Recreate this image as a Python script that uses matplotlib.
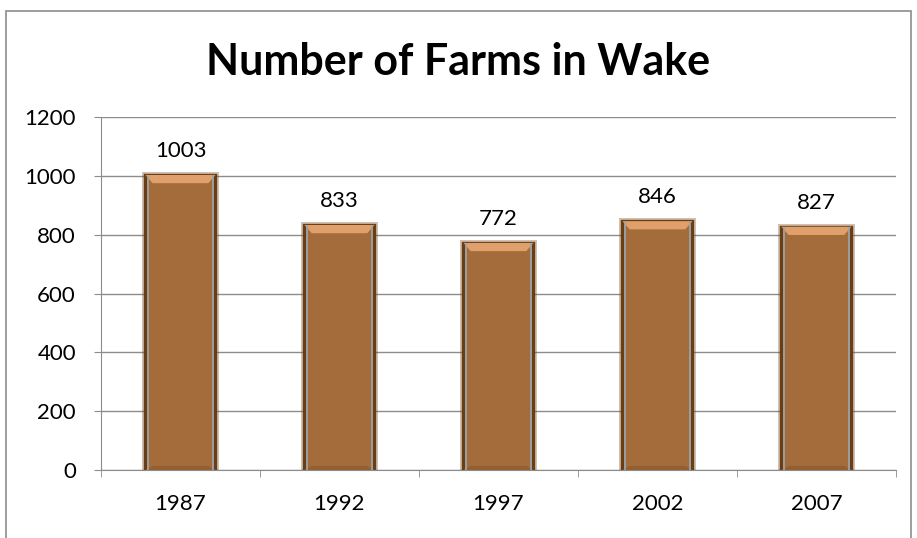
import matplotlib.pyplot as plt
from matplotlib.patches import Polygon, Rectangle
import matplotlib.patheffects as pe

# farm counts by census year
years = ['1987', '1992', '1997', '2002', '2007']
farms = [1003, 833, 772, 846, 827]

plt.rcParams['font.family'] = ['Lato', 'DejaVu Sans']

fig = plt.figure(figsize=(9.17, 5.38), dpi=100)
ax = fig.add_axes([0.1101, 0.1264, 0.8669, 0.6561])

# outer chart border
fig.patches.append(Rectangle((0.006, -0.01), 0.988, 0.99, transform=fig.transFigure,
                             fill=False, edgecolor='#8c8c8c', linewidth=1.2))

x = list(range(len(years)))
width = 0.44
bars = ax.bar(x, farms, width=width, color='#a46c3a', edgecolor='#6b3d12',
              linewidth=2.4, zorder=3)
for b in bars:
    b.set_path_effects([pe.withStroke(linewidth=5, foreground='#7a4a20', alpha=0.35)])

# bevel highlights on each bar
dx = 0.045
dy = 28
for xi, v in zip(x, farms):
    l, r = xi - width / 2, xi + width / 2
    top = Polygon([(l, v), (r, v), (r - dx, v - dy), (l + dx, v - dy)],
                  closed=True, facecolor='#e0a06b', edgecolor='none', zorder=4)
    bot = Polygon([(l, 0), (r, 0), (r - dx, dy * 0.5), (l + dx, dy * 0.5)],
                  closed=True, facecolor='#94602f', edgecolor='none', zorder=4)
    ax.add_patch(top)
    ax.add_patch(bot)
    ax.plot([l + 0.013, l + 0.013], [0, v - 5], color='#9aa3ab', lw=1.3, zorder=5)
    ax.plot([r - 0.013, r - 0.013], [0, v - 5], color='#9aa3ab', lw=1.3, zorder=5)
    ax.annotate(str(v), (xi, v), xytext=(0, 10), textcoords='offset points',
                ha='center', va='bottom', fontsize=16)

ax.set_xlim(-0.5, len(years) - 0.5)
ax.set_ylim(0, 1200)
ax.set_yticks(range(0, 1201, 200))
ax.set_xticks(x)
ax.set_xticklabels(years)
ax.set_xticks([i - 0.5 for i in range(len(years) + 1)], minor=True)
ax.tick_params(axis='x', which='major', length=0, pad=17, labelsize=16)
ax.tick_params(axis='x', which='minor', length=5, color='#8c8c8c')
ax.tick_params(axis='y', length=5, color='#8c8c8c', labelsize=16, pad=13)

ax.yaxis.grid(True, color='#8c8c8c', linewidth=1, zorder=0)
ax.set_axisbelow(True)
for s in ['top', 'right']:
    ax.spines[s].set_visible(False)
for s in ['left', 'bottom']:
    ax.spines[s].set_color('#8c8c8c')

fig.text(0.5, 0.884, 'Number of Farms in Wake', ha='center', va='center',
         fontsize=31, fontweight='bold')

fig.savefig('out.png', dpi=100)
